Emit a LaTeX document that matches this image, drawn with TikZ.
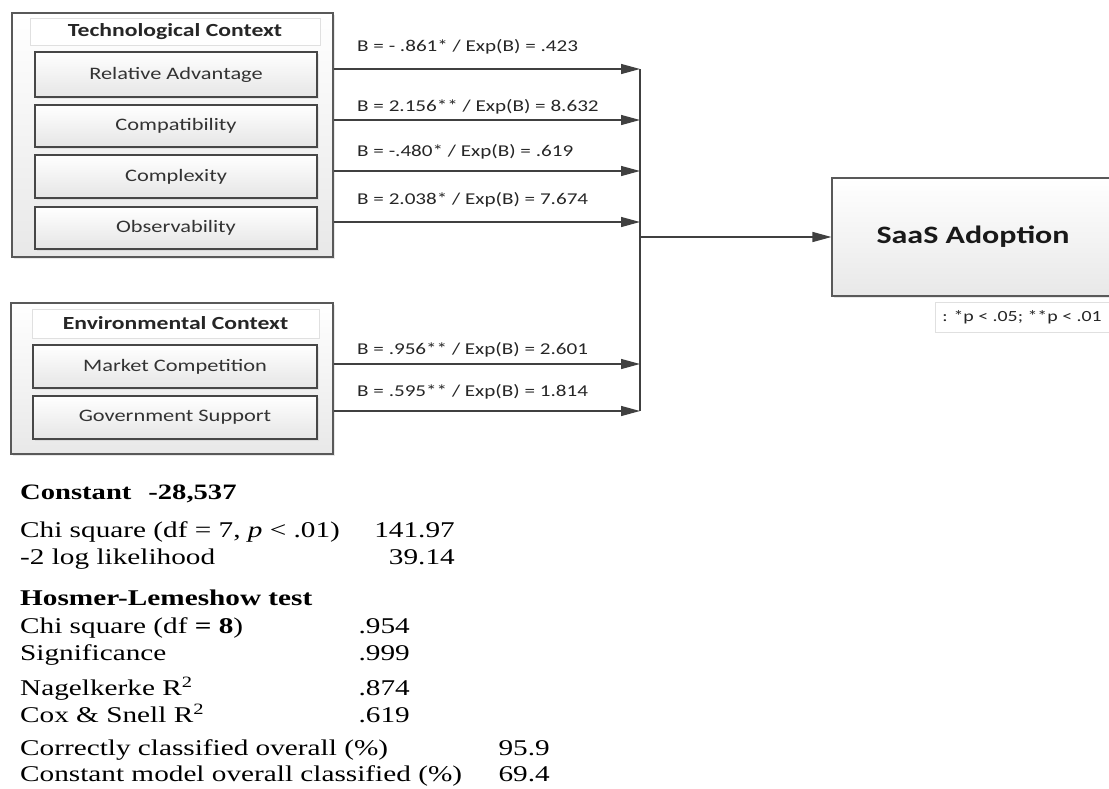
\documentclass[tikz,border=0pt]{standalone}
\usepackage{fontspec}
\setmainfont[FakeStretch=1.3]{Liberation Serif}
\newfontfamily\calib[FakeStretch=1.28]{Carlito}
\usetikzlibrary{arrows.meta,shadows}

\begin{document}
\begin{tikzpicture}[x=1pt,y=-1pt,
    grp/.style={draw=black!65, line width=1.1pt, top color=white, bottom color=black!9,
      drop shadow={shadow xshift=2pt, shadow yshift=-2pt, opacity=.18}},
    head/.style={draw=black!12, line width=.8pt, fill=white, text=black!85,
      font=\calib\bfseries\fontsize{18.5}{20}\selectfont},
    var/.style={draw=black!72, line width=1.1pt, top color=white, bottom color=black!10, text=black!80,
      font=\calib\fontsize{17.5}{19}\selectfont,
      drop shadow={shadow xshift=1.5pt, shadow yshift=-1.5pt, opacity=.15}},
    coef/.style={anchor=west, inner sep=0pt, text=black!85, font=\calib\fontsize{16.5}{18}\selectfont},
    wire/.style={draw=black!75, line width=1.3pt},
    arr/.style={wire, -{Triangle[length=19pt,width=10pt]}},
    stat/.style={anchor=base west, inner sep=0pt, font=\fontsize{22.5}{24}\selectfont},
    val/.style={anchor=base east, inner sep=0pt, font=\fontsize{22.5}{24}\selectfont}]
  \useasboundingbox (0,0) rectangle (1109,788);
  \clip (0,0) rectangle (1109,788);

  \node[grp, minimum width=321pt, minimum height=244pt] (tech) at (172.5,135) {};
  \node[head, minimum width=290pt, minimum height=27pt] (techhead) at (175,31.5) {Technological Context};
  \node[var, minimum width=282pt, minimum height=45pt] (ra) at (176,74.5) {Relative Advantage};
  \node[var, minimum width=282pt, minimum height=42pt] (comp) at (176,126) {Compatibility};
  \node[var, minimum width=282pt, minimum height=43pt] (cplx) at (176,176.5) {Complexity};
  \node[var, minimum width=282pt, minimum height=42pt] (obs) at (176,228) {Observability};

  \node[grp, minimum width=322pt, minimum height=151pt] (env) at (172,378.5) {};
  \node[head, minimum width=287pt, minimum height=29pt] (envhead) at (175.5,323.5) {Environmental Context};
  \node[var, minimum width=284pt, minimum height=43pt] (mc) at (175,366.5) {Market Competition};
  \node[var, minimum width=284pt, minimum height=43pt] (gs) at (175,417.5) {Government Support};

  \node[grp, minimum width=282pt, minimum height=118pt, text=black!90,
    font=\calib\bfseries\fontsize{25}{27}\selectfont] (saas) at (973,237) {SaaS Adoption};
  \node[draw=black!12, line width=.8pt, fill=white, minimum width=174pt, minimum height=30pt,
    text=black!85, font=\calib\fontsize{15.5}{17}\selectfont] (note) at (1022,317) {: *p < .05; **p < .01};

  \coordinate (bus) at (640,237);
  \draw[arr] ([yshift=5.5pt]ra.east -| tech.east) -- ([yshift=5.5pt]ra.east -| bus);
  \draw[arr] ([yshift=6pt]comp.east -| tech.east) -- ([yshift=6pt]comp.east -| bus);
  \draw[arr] ([yshift=5.5pt]cplx.east -| tech.east) -- ([yshift=5.5pt]cplx.east -| bus);
  \draw[arr] ([yshift=6pt]obs.east -| tech.east) -- ([yshift=6pt]obs.east -| bus);
  \draw[arr] ([yshift=2.5pt]mc.east -| env.east) -- ([yshift=2.5pt]mc.east -| bus);
  \draw[arr] ([yshift=6.5pt]gs.east -| env.east) -- ([yshift=6.5pt]gs.east -| bus);
  \draw[wire] ([yshift=5.5pt]ra.east -| bus) -- ([yshift=6.5pt]gs.east -| bus);
  \draw[arr] (bus) -- (saas.west);

  \node[coef] (cra) at (357,47) {B = - .861* / Exp(B) = .423};
  \node[coef] (ccomp) at (357,107) {B = 2.156** / Exp(B) = 8.632};
  \node[coef] (ccplx) at (357,152) {B = -.480* / Exp(B) = .619};
  \node[coef] (cobs) at (357,200) {B = 2.038* / Exp(B) = 7.674};
  \node[coef] (cmc) at (357,350) {B = .956** / Exp(B) = 2.601};
  \node[coef] (cgs) at (357,392) {B = .595** / Exp(B) = 1.814};

  \node[stat, font=\bfseries\fontsize{22}{24}\selectfont] (cst) at (20,499) {Constant\hspace{17pt}-28,537};
  \node[stat] (chi) at (20,537) {Chi square (df = 7, \textit{p} < .01)};
  \node[val] (chiv) at (455,537) {141.97};
  \node[stat] (ll) at (20,564) {-2 log likelihood};
  \node[val] (llv) at (455,564) {39.14};
  \node[stat, font=\bfseries\fontsize{22.5}{24}\selectfont] (hl) at (20,605) {Hosmer-Lemeshow test};
  \node[stat] (hchi) at (20,633) {Chi square (df \textbf{= 8})};
  \node[val] (hchiv) at (410,633) {.954};
  \node[stat] (sig) at (20,660) {Significance};
  \node[val] (sigv) at (410,660) {.999};
  \node[stat] (nag) at (20,695) {Nagelkerke R\textsuperscript{2}};
  \node[val] (nagv) at (410,695) {.874};
  \node[stat] (cox) at (20,722) {Cox \& Snell R\textsuperscript{2}};
  \node[val] (coxv) at (410,722) {.619};
  \node[stat] (cc) at (20,755) {Correctly classified overall (\%)};
  \node[val] (ccv) at (550,755) {95.9};
  \node[stat] (cm) at (20,781) {Constant model overall classified (\%)};
  \node[val] (cmv) at (550,781) {69.4};
\end{tikzpicture}
\end{document}
